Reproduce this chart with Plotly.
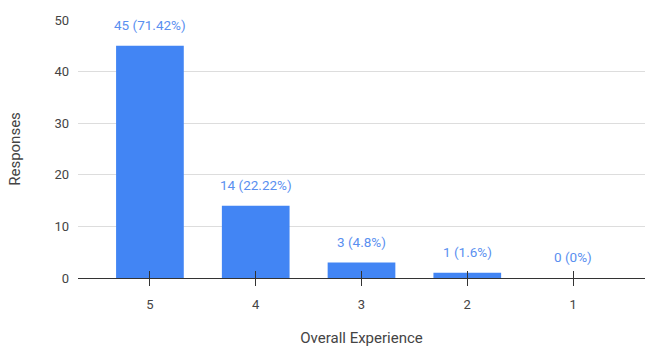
import plotly.graph_objects as go

# Survey results: overall experience ratings
ratings = ["5", "4", "3", "2", "1"]
responses = [45, 14, 3, 1, 0]
value_labels = ["45 (71.42%)", "14 (22.22%)", "3 (4.8%)", "1 (1.6%)", "0 (0%)"]
y_ticks = [0, 10, 20, 30, 40, 50]

BAR_BLUE = "#4285F4"
LABEL_BLUE = "#5a8ff0"
TEXT_GREY = "#444444"
FONT = "Roboto, Arial, sans-serif"

fig = go.Figure()

fig.add_trace(go.Bar(
    x=ratings,
    y=responses,
    marker=dict(color=BAR_BLUE, line=dict(width=0)),
    hoverinfo="x+y",
    showlegend=False,
))

# hidden companion trace so the overlay axis carries the same categories
fig.add_trace(go.Scatter(
    x=ratings,
    y=responses,
    mode="none",
    xaxis="x2",
    yaxis="y",
    showlegend=False,
    hoverinfo="skip",
))

# value labels floating above each bar (category axes take the index position)
for idx, (val, lab) in enumerate(zip(responses, value_labels)):
    fig.add_annotation(
        x=idx, y=val, xref="x", yref="y", text=lab, showarrow=False,
        yshift=21, font=dict(family=FONT, size=13.5, color=LABEL_BLUE),
    )

cat_range = [-0.68, 4.68]

fig.update_layout(
    width=645,
    height=347,
    margin=dict(l=78, r=0, t=20, b=69),
    paper_bgcolor="white",
    plot_bgcolor="white",
    bargap=0.36,
    font=dict(family=FONT, size=13, color=TEXT_GREY),
    xaxis=dict(
        type="category",
        categoryorder="array",
        categoryarray=ratings,
        range=cat_range,
        showgrid=False,
        showline=True,
        linecolor="#333333",
        linewidth=1,
        ticks="outside",
        ticklen=7,
        tickcolor="#333333",
        tickwidth=1,
        ticklabelstandoff=7,
        tickfont=dict(family=FONT, size=13, color=TEXT_GREY),
        title=dict(text="Overall Experience", standoff=24,
                   font=dict(family=FONT, size=15, color=TEXT_GREY)),
        zeroline=False,
    ),
    xaxis2=dict(
        type="category",
        categoryorder="array",
        categoryarray=ratings,
        range=cat_range,
        overlaying="x",
        anchor="y",
        side="bottom",
        showgrid=False,
        showline=False,
        ticks="inside",
        ticklen=7,
        tickcolor="#333333",
        tickwidth=1,
        showticklabels=False,
        zeroline=False,
    ),
    yaxis=dict(
        range=[0, 50],
        tickvals=y_ticks,
        showgrid=True,
        gridcolor="#dddddd",
        gridwidth=1,
        zeroline=False,
        showline=False,
        ticks="",
        ticklabelstandoff=8,
        tickfont=dict(family=FONT, size=13, color=TEXT_GREY),
        title=dict(text="Responses", standoff=30,
                   font=dict(family=FONT, size=15, color=TEXT_GREY)),
    ),
)

fig.write_html("out.html")
